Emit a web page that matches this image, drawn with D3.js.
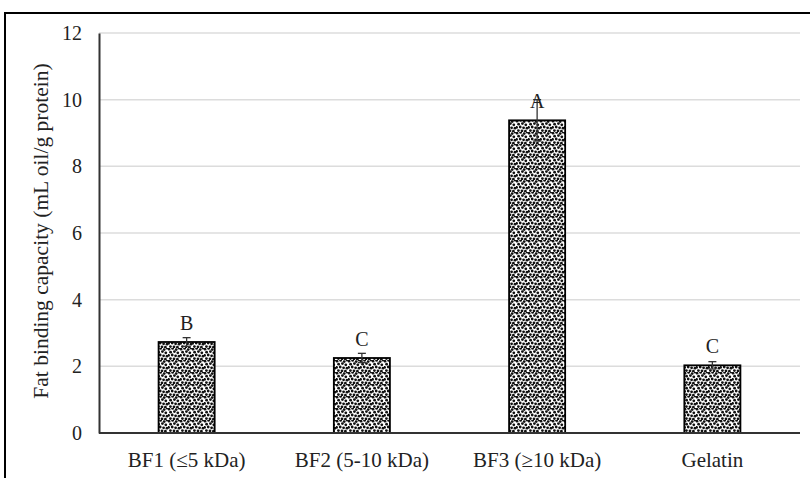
<!DOCTYPE html>
<html>
<head>
<meta charset="utf-8">
<script src="https://cdn.jsdelivr.net/npm/d3@7"></script>
<style>
  html, body { margin: 0; padding: 0; background: #fff; }
  svg { display: block; }
  svg text { font-family: "Liberation Serif", "Times New Roman", serif !important; }
</style>
</head>
<body>
<svg id="chart" width="810" height="478"></svg>
<script>
// Fat binding capacity of the fractions (mean ± SD) with significance letters
const categories = ["BF1 (\u22645 kDa)", "BF2 (5-10 kDa)", "BF3 (\u226510 kDa)", "Gelatin"];
const values = [2.73, 2.25, 9.38, 2.03];
const errors = [0.13, 0.14, 0.62, 0.11];
const letters = ["B", "C", "A", "C"];
const yTicks = [0, 2, 4, 6, 8, 10, 12];

const svg = d3.select("#chart");
const left = 99, right = 800;

// outer frame (runs off the right and bottom edges)
svg.append("rect")
  .attr("x", 5).attr("y", 13)
  .attr("width", 820).attr("height", 480)
  .attr("fill", "#fff").attr("stroke", "#000").attr("stroke-width", 2);

// stippled fill for the bars: an irregular dot tile
const defs = svg.append("defs");
const pat = defs.append("pattern")
  .attr("id", "stipple").attr("patternUnits", "userSpaceOnUse")
  .attr("width", 12).attr("height", 12);
pat.append("rect").attr("width", 12).attr("height", 12).attr("fill", "#fff");
const dots = [
  [1,1.2],[4.6,0.4],[8.2,1.6],[11.2,0.2],
  [2.6,4.2],[6.4,3.6],[9.8,4.8],
  [0.6,7.4],[4.2,7.0],[7.6,7.8],[11.0,8.2],
  [2.4,10.6],[6.0,10.8],[9.4,11.2]
];
dots.forEach(([cx, cy]) => {
  pat.append("circle").attr("cx", cx).attr("cy", cy).attr("r", 1.4).attr("fill", "#111");
});

const x = d3.scaleBand()
  .domain(categories)
  .range([left, right])
  .paddingInner(0.68).paddingOuter(0.34);

const y = d3.scaleLinear().domain([0, 12]).range([433, 33]);

// gridlines
svg.append("g")
  .selectAll("line").data(yTicks.filter(t => t > 0)).join("line")
  .attr("x1", left).attr("x2", right)
  .attr("y1", d => y(d)).attr("y2", d => y(d))
  .attr("stroke", "#dcdcdc").attr("stroke-width", 1.5);

// y axis
const yAxis = svg.append("g")
  .attr("transform", `translate(${left},0)`)
  .call(d3.axisLeft(y).tickValues(yTicks).tickSize(0).tickPadding(17))
  .attr("font-family", null).attr("font-size", null);
yAxis.select(".domain").attr("stroke", "#333").attr("stroke-width", 2);
yAxis.selectAll("text").attr("fill", "#222").style("font-size", "20px");

// bars
const data = categories.map((c, i) => ({ c, v: values[i], e: errors[i], l: letters[i] }));
svg.append("g").selectAll("rect").data(data).join("rect")
  .attr("x", d => x(d.c)).attr("width", x.bandwidth())
  .attr("y", d => y(d.v)).attr("height", d => y(0) - y(d.v))
  .attr("fill", "url(#stipple)").attr("stroke", "#000").attr("stroke-width", 1.8);

// error bars
const cx = d => x(d.c) + x.bandwidth() / 2;
const eb = svg.append("g").selectAll("g").data(data).join("g")
  .attr("stroke", "#333").attr("stroke-width", 1.3);
eb.append("line")
  .attr("x1", cx).attr("x2", cx)
  .attr("y1", d => y(d.v - d.e)).attr("y2", d => y(d.v + d.e));
eb.append("line")
  .attr("x1", d => cx(d) - 4).attr("x2", d => cx(d) + 4)
  .attr("y1", d => y(d.v + d.e)).attr("y2", d => y(d.v + d.e));
eb.append("line")
  .attr("x1", d => cx(d) - 4).attr("x2", d => cx(d) + 4)
  .attr("y1", d => y(d.v - d.e)).attr("y2", d => y(d.v - d.e));

// x axis
const xAxis = svg.append("g")
  .attr("transform", "translate(0,433)")
  .call(d3.axisBottom(x).tickSize(0).tickPadding(19))
  .attr("font-family", null).attr("font-size", null);
xAxis.select(".domain").attr("stroke", "#333").attr("stroke-width", 2)
  .attr("d", `M${left},0H${right}`);
xAxis.selectAll("text").attr("fill", "#222").style("font-size", "21px");

// significance letters
svg.append("g").selectAll("text").data(data).join("text")
  .attr("x", cx)
  .attr("y", d => y(d.v) - 12)
  .attr("text-anchor", "middle")
  .attr("fill", "#222").style("font-size", "20px")
  .text(d => d.l);

// y axis title
svg.append("text")
  .attr("transform", "translate(48,231) rotate(-90)")
  .attr("text-anchor", "middle")
  .attr("fill", "#222").style("font-size", "21.5px")
  .text("Fat binding capacity (mL oil/g protein)");
</script>
</body>
</html>
